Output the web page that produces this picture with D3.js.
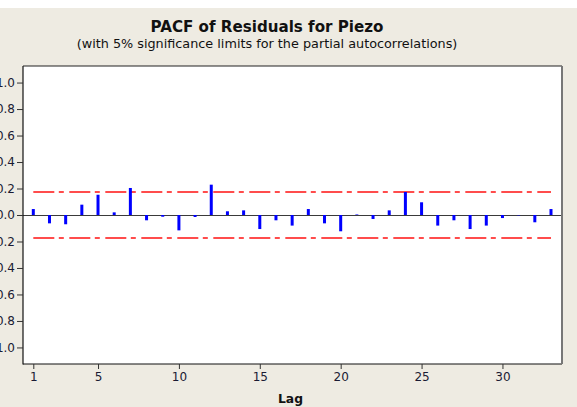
<!DOCTYPE html>
<html>
<head>
<meta charset="utf-8">
<script src="https://cdn.jsdelivr.net/npm/d3@7"></script>
<style>
  html, body { margin: 0; padding: 0; background: #EEEBE2; }
  svg { display: block; }
  text { font-family: "DejaVu Sans", Verdana, sans-serif; }
</style>
</head>
<body>
<svg id="chart" width="577" height="407"></svg>
<script>
// ---- data ----
const lags = [1,2,3,4,5,6,7,8,9,10,11,12,13,14,15,16,17,18,19,20,21,22,23,24,25,26,27,28,29,30,31,32,33];
const pacf = [0.045,-0.063,-0.070,0.078,0.153,0.020,0.204,-0.040,-0.013,-0.116,-0.015,0.229,0.028,0.035,-0.106,-0.040,-0.080,0.045,-0.063,-0.123,0.004,-0.030,0.035,0.174,0.096,-0.080,-0.040,-0.106,-0.080,-0.023,-0.003,-0.055,0.045];
const sigLimit = 0.176;
const xTicks = [1,5,10,15,20,25,30];
const yTicks = [-1.0,-0.8,-0.6,-0.4,-0.2,0.0,0.2,0.4,0.6,0.8,1.0];
const titleText = "PACF of Residuals for Piezo";
const subtitleText = "(with 5% significance limits for the partial autocorrelations)";
const xLabel = "Lag";

// ---- layout ----
const svg = d3.select("#chart");
const W = 577, H = 407;
const plot = {left: 23, right: 562, top: 66, bottom: 364};

svg.append("rect").attr("x",0).attr("y",0).attr("width",W).attr("height",H).attr("fill","#EEEBE2");
svg.append("rect").attr("x",0).attr("y",0).attr("width",W).attr("height",8).attr("fill","#ffffff");

const x = d3.scaleLinear().domain([0.363, 33.68]).range([plot.left, plot.right]);
const y = d3.scaleLinear().domain([-1.125, 1.125]).range([plot.bottom, plot.top]);

// plot background
svg.append("rect")
  .attr("x", plot.left).attr("y", plot.top)
  .attr("width", plot.right - plot.left).attr("height", plot.bottom - plot.top)
  .attr("fill", "#ffffff");

// significance limits
const g = svg.append("g");
[sigLimit, -sigLimit].forEach(v => {
  g.append("line")
    .attr("x1", x(lags[0])).attr("x2", x(lags[lags.length-1]))
    .attr("y1", Math.round(y(v))).attr("y2", Math.round(y(v)))
    .attr("stroke", "#ff4c4c").attr("stroke-width", 2)
    .attr("stroke-dasharray", "21,4.5,5,5.5");
});

// zero line
g.append("line")
  .attr("x1", plot.left).attr("x2", plot.right)
  .attr("y1", y(0) + 0.5).attr("y2", y(0) + 0.5)
  .attr("stroke", "#3a3a3a").attr("stroke-width", 1.2);

// bars
g.selectAll("rect.bar").data(lags.map((l,i) => ({lag:l, v:pacf[i]})))
  .enter().append("rect")
  .attr("class","bar")
  .attr("x", d => x(d.lag) - 1.5)
  .attr("width", 3)
  .attr("y", d => Math.min(y(d.v), y(0)))
  .attr("height", d => Math.abs(y(d.v) - y(0)))
  .attr("fill", "#0000ff");

// frame
svg.append("line").attr("x1", plot.left).attr("x2", plot.left).attr("y1", plot.top).attr("y2", plot.bottom + 0.5)
  .attr("stroke", "#111").attr("stroke-width", 1.2);
svg.append("line").attr("x1", plot.left).attr("x2", plot.right).attr("y1", plot.bottom).attr("y2", plot.bottom)
  .attr("stroke", "#111").attr("stroke-width", 1.2);
svg.append("line").attr("x1", plot.left).attr("x2", plot.right).attr("y1", plot.top).attr("y2", plot.top)
  .attr("stroke", "#222").attr("stroke-width", 1.2);
svg.append("line").attr("x1", plot.right).attr("x2", plot.right).attr("y1", plot.top).attr("y2", plot.bottom)
  .attr("stroke", "#777").attr("stroke-width", 2);

// axes
const xAxis = d3.axisBottom(x).tickValues(xTicks).tickSize(5).tickPadding(3).tickFormat(d3.format("d"));
const xg = svg.append("g").attr("transform", `translate(0,${plot.bottom})`).call(xAxis);
xg.select(".domain").remove();
xg.selectAll("line").attr("stroke", "#333");
xg.selectAll("text").attr("font-size", 12).attr("fill", "#1a1a33").attr("font-family", "DejaVu Sans, Verdana, sans-serif");

const yAxis = d3.axisLeft(y).tickValues(yTicks).tickSize(6).tickPadding(2).tickFormat(d3.format(".1f"));
const yg = svg.append("g").attr("transform", `translate(${plot.left},0)`).call(yAxis);
yg.select(".domain").remove();
yg.selectAll("line").attr("stroke", "#333");
yg.selectAll("text").attr("font-size", 12).attr("fill", "#1a1a33").attr("font-family", "DejaVu Sans, Verdana, sans-serif");

// titles, fitted to measured widths
function fitText(sel, targetWidth) {
  let fs = +sel.attr("font-size");
  const w = sel.node().getComputedTextLength();
  if (w > 0) sel.attr("font-size", (fs * targetWidth / w).toFixed(2));
}
const t1 = svg.append("text").attr("x", 267).attr("y", 32).attr("text-anchor","middle")
  .attr("font-size", 14).attr("font-weight","bold").attr("fill","#111").text(titleText);
fitText(t1, 233);
const t2 = svg.append("text").attr("x", 267).attr("y", 47.5).attr("text-anchor","middle")
  .attr("font-size", 12).attr("fill","#111").text(subtitleText);
fitText(t2, 381);
const t3 = svg.append("text").attr("x", 290.5).attr("y", 403).attr("text-anchor","middle")
  .attr("font-size", 13).attr("font-weight","bold").attr("fill","#111").text(xLabel);
fitText(t3, 25);
</script>
</body>
</html>
